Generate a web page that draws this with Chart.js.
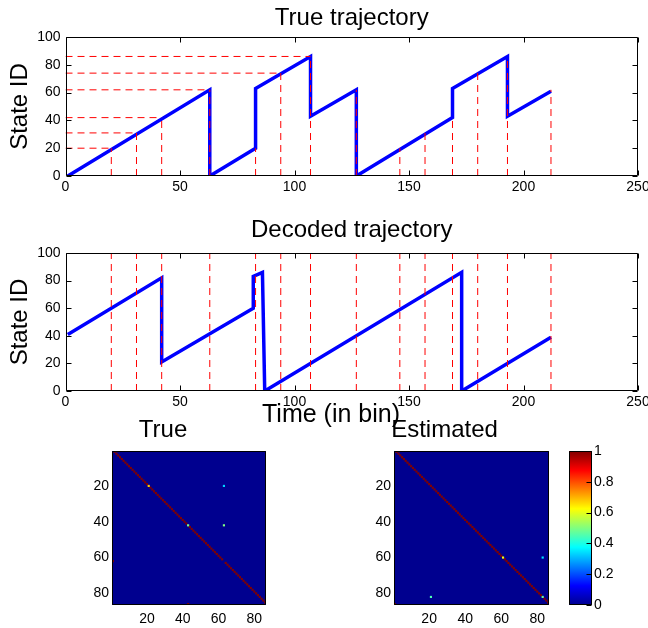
<!DOCTYPE html>
<html>
<head>
<meta charset="utf-8">
<script src="https://cdn.jsdelivr.net/npm/chart.js@4.4.0/dist/chart.umd.min.js"></script>
<style>
  body { margin: 0; background: #fff; }
  #wrap { position: relative; width: 648px; height: 628px; overflow: hidden; }
  canvas { position: absolute; }
  .lbl { position: absolute; font: 25px "Liberation Sans", Arial, sans-serif; line-height: 25px; color: #000; white-space: nowrap; transform: translateX(-50%); }
</style>
</head>
<body>
<div id="wrap">
  <canvas id="topChart" width="660" height="205" style="left:0;top:0"></canvas>
  <canvas id="midChart" width="660" height="205" style="left:0;top:205px"></canvas>
  <canvas id="trueMat" width="262" height="218" style="left:60px;top:410px"></canvas>
  <canvas id="estMat" width="290" height="218" style="left:340px;top:410px"></canvas>
  <canvas id="cbar" width="88" height="188" style="left:560px;top:440px"></canvas>
  <div class="lbl" style="left:331px;top:401px">Time (in bin)</div>
</div>
<script>
// trajectories: time bins where the path turns, and the state there
const trueTime  = [1, 63, 63, 83, 83, 107, 107, 127, 127, 169, 169, 193, 193, 212];
const trueState = [0, 62, 0, 20, 63, 86, 43, 62, 0, 42, 63, 86, 43, 61];
const decodedTime  = [1, 42, 42, 82, 82, 86, 87, 173, 173, 212];
const decodedState = [41, 82, 21, 60, 83, 86, 0, 86, 0, 39];

// red dashed markers
const markTime  = [20, 31, 42, 63, 83, 94, 107, 127, 146, 157, 169, 180, 193, 212];
const markState = [20, 31, 42, 62, 20, 74, 86, 62, 20, 31, 42, 74, 86, 62];
const levelState = [20, 31, 42, 62, 74, 86];
const levelEnd   = [20, 31, 42, 63, 94, 107];

const timeTicks = [0, 50, 100, 150, 200, 250];
const stateTicks = [0, 20, 40, 60, 80, 100];

// transition matrices: rows that step to the next state with prob 1
const trueStepRows = [1, 2, 3, 4, 5, 6, 7, 8, 9, 10, 11, 12, 13, 14, 15, 16, 17, 18, 19,
  21, 22, 23, 24, 25, 26, 27, 28, 29, 30, 31, 32, 33, 34, 35, 36, 37, 38, 39, 40, 41,
  43, 44, 45, 46, 47, 48, 49, 50, 51, 52, 53, 54, 55, 56, 57, 58, 59, 60, 61,
  63, 64, 65, 66, 67, 68, 69, 70, 71, 72, 73, 74, 75, 76, 77, 78, 79, 80, 81, 82, 83, 84, 85];
const trueOtherRow = [20, 20, 42, 42, 62, 86];
const trueOtherCol = [21, 63, 43, 63, 1, 43];
const trueOtherVal = [0.67, 0.33, 0.5, 0.5, 1, 1];

const estStepRows = [1, 2, 3, 4, 5, 6, 7, 8, 9, 10, 11, 12, 13, 14, 15, 16, 17, 18, 19, 20,
  21, 22, 23, 24, 25, 26, 27, 28, 29, 30, 31, 32, 33, 34, 35, 36, 37, 38, 39, 40,
  41, 42, 43, 44, 45, 46, 47, 48, 49, 50, 51, 52, 53, 54, 55, 56, 57, 58, 59,
  61, 62, 63, 64, 65, 66, 67, 68, 69, 70, 71, 72, 73, 74, 75, 76, 77, 78, 79, 80, 81,
  83, 84, 85];
const estOtherRow = [60, 60, 82, 82, 86];
const estOtherCol = [61, 83, 83, 21, 1];
const estOtherVal = [0.62, 0.35, 0.48, 0.45, 1];

const matTicks = [20, 40, 60, 80];
const cbarRange = [0, 1];
const cbarTicks = [0, 0.2, 0.4, 0.6, 0.8, 1];

Chart.defaults.font.family = '"Liberation Sans", Arial, sans-serif';
Chart.defaults.font.size = 14;
Chart.defaults.color = '#000';
Chart.defaults.animation = false;
Chart.defaults.plugins.legend.display = false;
Chart.defaults.plugins.tooltip.enabled = false;

function clamp(v) { return Math.min(Math.max(v, 0), 1); }
function jet(v) {
  const r = clamp(Math.min(4 * v - 1.5, -4 * v + 4.5));
  const g = clamp(Math.min(4 * v - 0.5, -4 * v + 3.5));
  const b = clamp(Math.min(4 * v + 0.5625, -4 * v + 2.5));
  return 'rgb(' + Math.round(r * 255) + ',' + Math.round(g * 255) + ',' + Math.round(b * 255) + ')';
}
const jetStops = [0, 0.125, 0.375, 0.625, 0.875, 1];

// box round the plot area plus matlab style inner tick marks
const framePlugin = {
  id: 'frame',
  afterDraw(chart, args, opts) {
    const {ctx, chartArea: a} = chart;
    const L = Math.round(a.left) + 0.5, R = Math.round(a.right) - 0.5;
    const T = Math.round(a.top) + 0.5, B = Math.round(a.bottom) - 0.5;
    const len = opts.tickLength || 0;
    ctx.save();
    ctx.strokeStyle = '#000';
    ctx.lineWidth = 1;
    ctx.beginPath();
    if (len) {
      const sx = chart.scales.x, sy = chart.scales.y;
      if (opts.xTicks) sx.ticks.forEach(t => {
        const p = Math.round(sx.getPixelForValue(t.value)) + 0.5;
        ctx.moveTo(p, B); ctx.lineTo(p, B - len);
        ctx.moveTo(p, T); ctx.lineTo(p, T + len);
      });
      if (opts.yTicks) sy.ticks.forEach(t => {
        const p = Math.round(sy.getPixelForValue(t.value)) + 0.5;
        if (opts.yTicks !== 'right') { ctx.moveTo(L, p); ctx.lineTo(L + len, p); }
        ctx.moveTo(R, p); ctx.lineTo(R - len, p);
      });
    }
    ctx.rect(L, T, R - L, B - T);
    ctx.stroke();
    ctx.restore();
  }
};

const areaPlugin = {
  id: 'areaFill',
  beforeDatasetsDraw(chart, args, opts) {
    if (!opts.color) return;
    const a = chart.chartArea;
    chart.ctx.save();
    chart.ctx.fillStyle = opts.color;
    chart.ctx.fillRect(a.left, a.top, a.right - a.left, a.bottom - a.top);
    chart.ctx.restore();
  }
};

function guide(x0, y0, x1, y1) {
  return {
    data: [{x: x0, y: y0}, {x: x1, y: y1}],
    borderColor: '#ff0000', borderWidth: 1, borderDash: [7, 5],
    pointRadius: 0, order: 0
  };
}

function trajectoryChart(id, time, state, guides, title, titlePad, xHeight, padBottom) {
  const path = {
    data: time.map((t, i) => ({x: t, y: state[i]})),
    borderColor: '#0000ff', borderWidth: 3.5, pointRadius: 0, order: 1
  };
  return new Chart(document.getElementById(id), {
    type: 'line',
    data: { datasets: guides.concat([path]) },
    options: {
      responsive: false,
      layout: { padding: { right: 22, bottom: padBottom } },
      plugins: {
        title: { display: true, text: title, fullSize: false, font: { size: 24, weight: 'normal' }, padding: titlePad },
        frame: { tickLength: 5, xTicks: true, yTicks: true }
      },
      scales: {
        x: {
          type: 'linear', min: 0, max: 250,
          grid: { display: false, drawTicks: false }, border: { display: false },
          ticks: { padding: 3 },
          afterBuildTicks: s => { s.ticks = timeTicks.map(v => ({value: v})); },
          afterFit: s => { s.height = xHeight; }
        },
        y: {
          min: 0, max: 100,
          grid: { display: false, drawTicks: false }, border: { display: false },
          ticks: { padding: 5 },
          title: { display: true, text: 'State ID', font: { size: 24, weight: 'normal' }, padding: { top: 6, bottom: 0 } },
          afterBuildTicks: s => { s.ticks = stateTicks.map(v => ({value: v})); },
          afterFit: s => { s.width = 65.5; }
        }
      }
    },
    plugins: [framePlugin]
  });
}

const topGuides = levelState.map((s, i) => guide(0, s, levelEnd[i], s))
  .concat(markTime.map((t, i) => guide(t, 0, t, markState[i])));
const midGuides = markTime.map(t => guide(t, 0, t, 100));

trajectoryChart('topChart', trueTime, trueState, topGuides, 'True trajectory', { top: 4, bottom: 4.2 }, 24, 5);
trajectoryChart('midChart', decodedTime, decodedState, midGuides, 'Decoded trajectory', { top: 11.2, bottom: 8 }, 19, 0);

function matrixChart(id, stepRows, oRow, oCol, oVal, title, yWidth, padRight) {
  const cells = stepRows.map(r => ({x: r + 1, y: r, v: 1}))
    .concat(oRow.map((r, i) => ({x: oCol[i], y: r, v: oVal[i]})));
  return new Chart(document.getElementById(id), {
    type: 'scatter',
    data: { datasets: [{
      data: cells,
      pointStyle: 'rect',
      borderWidth: 0,
      backgroundColor: ctx => jet(ctx.raw ? ctx.raw.v : 0),
      pointRadius: ctx => {
        const s = ctx.chart.scales.x;
        return 1.2 * Math.abs(s.getPixelForValue(1) - s.getPixelForValue(0)) / Math.SQRT2;
      }
    }] },
    options: {
      responsive: false,
      layout: { padding: { right: padRight } },
      plugins: {
        title: { display: true, text: title, font: { size: 24, weight: 'normal' }, padding: { top: 5.9, bottom: 6.3 } },
        areaFill: { color: jet(0) },
        frame: { tickLength: 0 }
      },
      scales: {
        x: {
          type: 'linear', min: 0.5, max: 86.5,
          grid: { display: false, drawTicks: false }, border: { display: false },
          ticks: { padding: 6 },
          afterBuildTicks: s => { s.ticks = matTicks.map(v => ({value: v})); },
          afterFit: s => { s.height = 23; }
        },
        y: {
          type: 'linear', min: 0.5, max: 86.5, reverse: true,
          grid: { display: false, drawTicks: false }, border: { display: false },
          ticks: { padding: 3 },
          afterBuildTicks: s => { s.ticks = matTicks.map(v => ({value: v})); },
          afterFit: s => { s.width = yWidth; }
        }
      }
    },
    plugins: [areaPlugin, framePlugin]
  });
}

matrixChart('trueMat', trueStepRows, trueOtherRow, trueOtherCol, trueOtherVal, 'True', 52, 56);
matrixChart('estMat', estStepRows, estOtherRow, estOtherCol, estOtherVal, 'Estimated', 54, 81);

// colour bar
function jetGradient(ctx) {
  const chart = ctx.chart;
  if (!chart.chartArea) return jet(0.5);
  const y = chart.scales.y;
  const g = chart.ctx.createLinearGradient(0, y.getPixelForValue(cbarRange[0]), 0, y.getPixelForValue(cbarRange[1]));
  jetStops.forEach(v => g.addColorStop(v, jet(v)));
  return g;
}

new Chart(document.getElementById('cbar'), {
  type: 'bar',
  data: {
    labels: [''],
    datasets: [{ data: [cbarRange], backgroundColor: jetGradient, borderWidth: 0, barPercentage: 1, categoryPercentage: 1 }]
  },
  options: {
    responsive: false,
    layout: { padding: { left: 9, top: 11, bottom: 23 } },
    plugins: { frame: { tickLength: 5, yTicks: 'right' } },
    scales: {
      x: { display: false },
      y: {
        position: 'right', min: 0, max: 1,
        grid: { display: false, drawTicks: false }, border: { display: false },
        ticks: { padding: 2, callback: v => String(v) },
        afterBuildTicks: s => { s.ticks = cbarTicks.map(v => ({value: v})); },
        afterFit: s => { s.width = 56; }
      }
    }
  },
  plugins: [framePlugin]
});
</script>
</body>
</html>
